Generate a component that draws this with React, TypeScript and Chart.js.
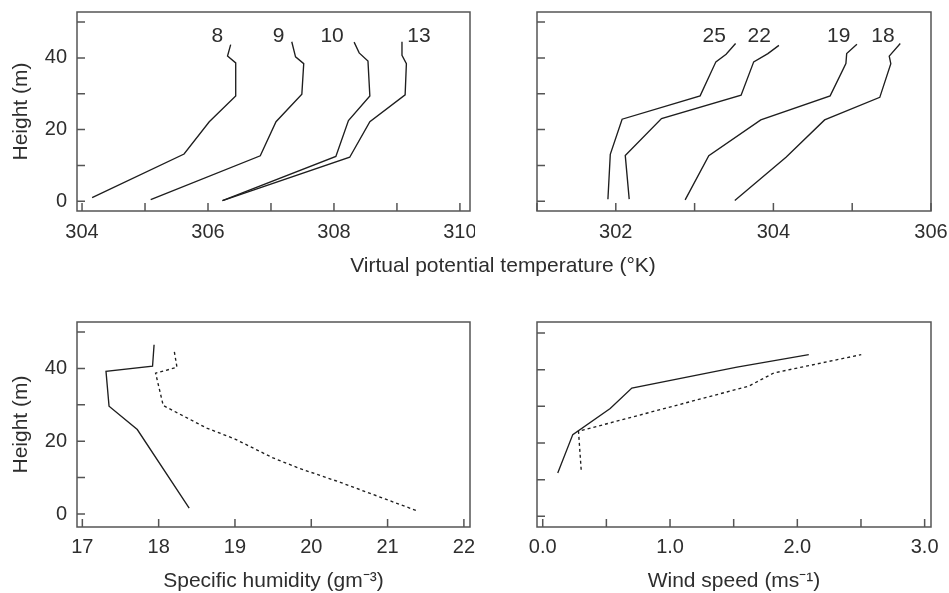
import React, { useEffect, useRef } from 'react';
import { Chart, registerables } from 'chart.js';
Chart.register(...registerables);

// ---------- Data: virtual potential temperature profiles (top-left) ----------
const h8 = [1.0, 13.2, 22.2, 29.4, 38.6, 40.5, 43.7];
const t8 = [304.16, 305.62, 306.02, 306.44, 306.44, 306.31, 306.36];
const h9 = [0.5, 12.7, 22.2, 29.9, 38.4, 40.3, 44.5];
const t9 = [305.09, 306.83, 307.08, 307.49, 307.52, 307.39, 307.33];
const h10 = [0.2, 12.5, 22.5, 29.4, 39.1, 41.4, 44.4];
const t10 = [306.23, 308.03, 308.23, 308.57, 308.54, 308.40, 308.32];
const h13 = [0.2, 12.3, 22.2, 29.7, 38.4, 40.7, 44.5];
const t13 = [306.23, 308.25, 308.57, 309.13, 309.15, 309.08, 309.08];
const tlLabels = ['8', '9', '10', '13'];
const tlLabelX = [306.15, 307.12, 307.97, 309.35];

// ---------- Data: virtual potential temperature profiles (top-right) ----------
const h25 = [0.6, 13.1, 22.9, 29.4, 38.9, 41.0, 44.0];
const t25 = [301.9, 301.93, 302.08, 303.07, 303.27, 303.4, 303.52];
const h22 = [0.6, 12.8, 23.1, 29.6, 38.9, 41.2, 43.5];
const t22 = [302.17, 302.12, 302.58, 303.59, 303.75, 303.93, 304.07];
const h19 = [0.4, 12.7, 22.7, 29.4, 38.4, 41.2, 43.8];
const t19 = [302.88, 303.18, 303.84, 304.72, 304.92, 304.93, 305.06];
const h18 = [0.2, 12.3, 22.7, 29.0, 38.4, 40.5, 44.0];
const t18 = [303.51, 304.16, 304.65, 305.35, 305.49, 305.47, 305.61];
const trLabels = ['25', '22', '19', '18'];
const trLabelX = [303.25, 303.82, 304.83, 305.39];
const curveLabelHeight = 46.1;

// ---------- Data: specific humidity (bottom-left) ----------
const hqSolid = [1.6, 23.2, 29.6, 39.2, 40.6, 46.5];
const qSolid = [18.4, 17.72, 17.35, 17.31, 17.92, 17.94];
const hqDotted = [1.0, 8.7, 12.5, 15.4, 20.6, 23.6, 29.8, 38.7, 40.3, 45.3];
const qDotted = [21.37, 20.38, 19.85, 19.5, 19.0, 18.63, 18.06, 17.96, 18.24, 18.2];

// ---------- Data: wind speed (bottom-right) ----------
const huSolid = [11.8, 22.3, 29.4, 35.0, 40.7, 44.1];
const uSolid = [0.118, 0.236, 0.53, 0.7, 1.526, 2.09];
const huDotted = [12.7, 23.2, 35.5, 39.1, 44.1];
const uDotted = [0.302, 0.281, 1.618, 1.815, 2.502];

// ---------- Titles ----------
const yTitle = 'Height (m)';
const topXTitle = 'Virtual potential temperature (°K)';
const humidityTitle = 'Specific humidity (gm⁻³)';
const windTitle = 'Wind speed (ms⁻¹)';

const FONT = '"Liberation Sans", Arial, Helvetica, sans-serif';
const TEXT = '#2e2e2e';
const LINE = '#1e1e1e';
const FRAME = '#555';

type Series = { x: number[]; y: number[]; dash?: number[] };
type Panel = {
  series: Series[];
  xMin: number; xMax: number; xStep: number;
  xLabel: (v: number) => string;
  yMin: number; yMax: number;
  yLabel: (v: number) => string;
  width: number; height: number;
  area: { left: number; right: number; top: number; bottom: number };
  xTitle?: string; yTitleOn?: boolean;
  labels?: { text: string[]; x: number[]; y: number };
  xPad: number;
};

function PanelChart({ p, style }: { p: Panel; style: React.CSSProperties }) {
  const ref = useRef<HTMLCanvasElement | null>(null);
  useEffect(() => {
    if (!ref.current) return;
    const framePlugin = {
      id: 'frameTicks',
      afterDraw(chart: any) {
        const { ctx, chartArea: a } = chart;
        const xs = chart.scales.x;
        const ys = chart.scales.y;
        ctx.save();
        ctx.strokeStyle = FRAME;
        ctx.lineWidth = 1.5;
        ctx.strokeRect(a.left, a.top, a.right - a.left, a.bottom - a.top);
        ctx.beginPath();
        xs.ticks.forEach((t: any) => {
          const px = xs.getPixelForValue(t.value);
          ctx.moveTo(px, a.bottom);
          ctx.lineTo(px, a.bottom - 8);
        });
        ys.ticks.forEach((t: any) => {
          const py = ys.getPixelForValue(t.value);
          ctx.moveTo(a.left, py);
          ctx.lineTo(a.left + 8, py);
        });
        ctx.stroke();
        if (p.labels) {
          ctx.fillStyle = TEXT;
          ctx.font = `21px ${FONT}`;
          ctx.textAlign = 'center';
          ctx.textBaseline = 'middle';
          p.labels.text.forEach((s, i) => {
            ctx.fillText(s, xs.getPixelForValue(p.labels!.x[i]), ys.getPixelForValue(p.labels!.y));
          });
        }
        ctx.restore();
      },
    };
    const chart = new Chart(ref.current, {
      type: 'scatter',
      data: {
        datasets: p.series.map((s) => ({
          data: s.x.map((v, i) => ({ x: v, y: s.y[i] })),
          showLine: true,
          borderColor: LINE,
          backgroundColor: LINE,
          borderWidth: 1.35,
          borderDash: s.dash || [],
          pointRadius: 0,
          pointHoverRadius: 0,
          fill: false,
          tension: 0,
        })),
      },
      options: {
        animation: false,
        responsive: false,
        maintainAspectRatio: false,
        events: [],
        layout: { padding: { left: 0, top: p.area.top, right: p.width - p.area.right, bottom: 0 } },
        plugins: { legend: { display: false }, tooltip: { enabled: false } },
        scales: {
          x: {
            type: 'linear',
            min: p.xMin,
            max: p.xMax,
            grid: { display: false, drawTicks: false },
            border: { display: false },
            ticks: {
              stepSize: p.xStep,
              includeBounds: false,
              autoSkip: false,
              maxRotation: 0,
              padding: p.xPad,
              color: TEXT,
              font: { family: FONT, size: 20 },
              callback: (v: any) => p.xLabel(Number(v)),
            },
            title: {
              display: !!p.xTitle,
              text: p.xTitle || '',
              color: TEXT,
              font: { family: FONT, size: 21, lineHeight: 1.1 },
              padding: { top: 0, bottom: 0 },
            },
            afterFit: (s: any) => {
              s.height = p.height - p.area.bottom;
              s.paddingLeft = 0;
              s.paddingRight = 0;
            },
          },
          y: {
            type: 'linear',
            min: p.yMin,
            max: p.yMax,
            grid: { display: false, drawTicks: false },
            border: { display: false },
            ticks: {
              stepSize: 10,
              includeBounds: false,
              autoSkip: false,
              padding: 10,
              color: TEXT,
              font: { family: FONT, size: 20 },
              callback: (v: any) => p.yLabel(Number(v)),
            },
            title: {
              display: !!p.yTitleOn,
              text: yTitle,
              color: TEXT,
              font: { family: FONT, size: 21 },
              padding: { top: 9, bottom: 0 },
            },
            afterFit: (s: any) => {
              s.width = p.area.left;
              s.paddingTop = 0;
              s.paddingBottom = 0;
            },
          },
        },
      },
      plugins: [framePlugin],
    } as any);
    return () => chart.destroy();
  }, [p]);
  return (
    <canvas
      ref={ref}
      width={p.width}
      height={p.height}
      style={{ position: 'absolute', width: p.width, height: p.height, ...style }}
    />
  );
}

const evenLabel = (v: number) => (Math.round(v) % 2 === 0 ? String(Math.round(v)) : '');
const leftY = (v: number) => (Math.round(v) % 20 === 0 ? String(Math.round(v)) : '');
const noY = () => '';

const panels: Panel[] = [
  {
    series: [
      { x: t8, y: h8 }, { x: t9, y: h9 }, { x: t10, y: h10 }, { x: t13, y: h13 },
    ],
    xMin: 303.92, xMax: 310.16, xStep: 1, xLabel: evenLabel,
    yMin: -2.7, yMax: 52.8, yLabel: leftY,
    width: 475, height: 290,
    area: { left: 77, right: 470, top: 12, bottom: 211 },
    yTitleOn: true,
    labels: { text: tlLabels, x: tlLabelX, y: curveLabelHeight },
    xPad: 9,
  },
  {
    series: [
      { x: t25, y: h25 }, { x: t22, y: h22 }, { x: t19, y: h19 }, { x: t18, y: h18 },
    ],
    xMin: 301.0, xMax: 306.0, xStep: 1, xLabel: evenLabel,
    yMin: -2.7, yMax: 52.8, yLabel: noY,
    width: 474, height: 290,
    area: { left: 62, right: 456, top: 12, bottom: 211 },
    labels: { text: trLabels, x: trLabelX, y: curveLabelHeight },
    xPad: 9,
  },
  {
    series: [
      { x: qSolid, y: hqSolid }, { x: qDotted, y: hqDotted, dash: [3, 3] },
    ],
    xMin: 16.93, xMax: 22.08, xStep: 1, xLabel: (v) => String(Math.round(v)),
    yMin: -3.57, yMax: 52.75, yLabel: leftY,
    width: 475, height: 303,
    area: { left: 77, right: 470, top: 32, bottom: 237 },
    yTitleOn: true,
    xTitle: humidityTitle,
    xPad: 8,
  },
  {
    series: [
      { x: uSolid, y: huSolid }, { x: uDotted, y: huDotted, dash: [3, 3] },
    ],
    xMin: -0.045, xMax: 3.05, xStep: 0.5,
    xLabel: (v) => (Math.abs(v - Math.round(v)) < 1e-6 ? Math.round(v).toFixed(1) : ''),
    yMin: -2.9, yMax: 53.0, yLabel: noY,
    width: 474, height: 303,
    area: { left: 62, right: 456, top: 32, bottom: 237 },
    xTitle: windTitle,
    xPad: 8,
  },
];

export default function App() {
  useEffect(() => {
    document.body.style.margin = '0';
  }, []);
  return (
    <div style={{ position: 'fixed', left: 0, top: 0, width: 949, height: 593, background: '#fff', overflow: 'hidden' }}>
      <PanelChart p={panels[0]} style={{ left: 0, top: 0 }} />
      <PanelChart p={panels[1]} style={{ left: 475, top: 0 }} />
      <PanelChart p={panels[2]} style={{ left: 0, top: 290 }} />
      <PanelChart p={panels[3]} style={{ left: 475, top: 290 }} />
      <div
        style={{
          position: 'absolute', left: 253, width: 500, top: 252, height: 26, lineHeight: '26px',
          textAlign: 'center', fontFamily: FONT, fontSize: 21, color: TEXT, whiteSpace: 'nowrap',
        }}
      >
        {topXTitle}
      </div>
    </div>
  );
}
